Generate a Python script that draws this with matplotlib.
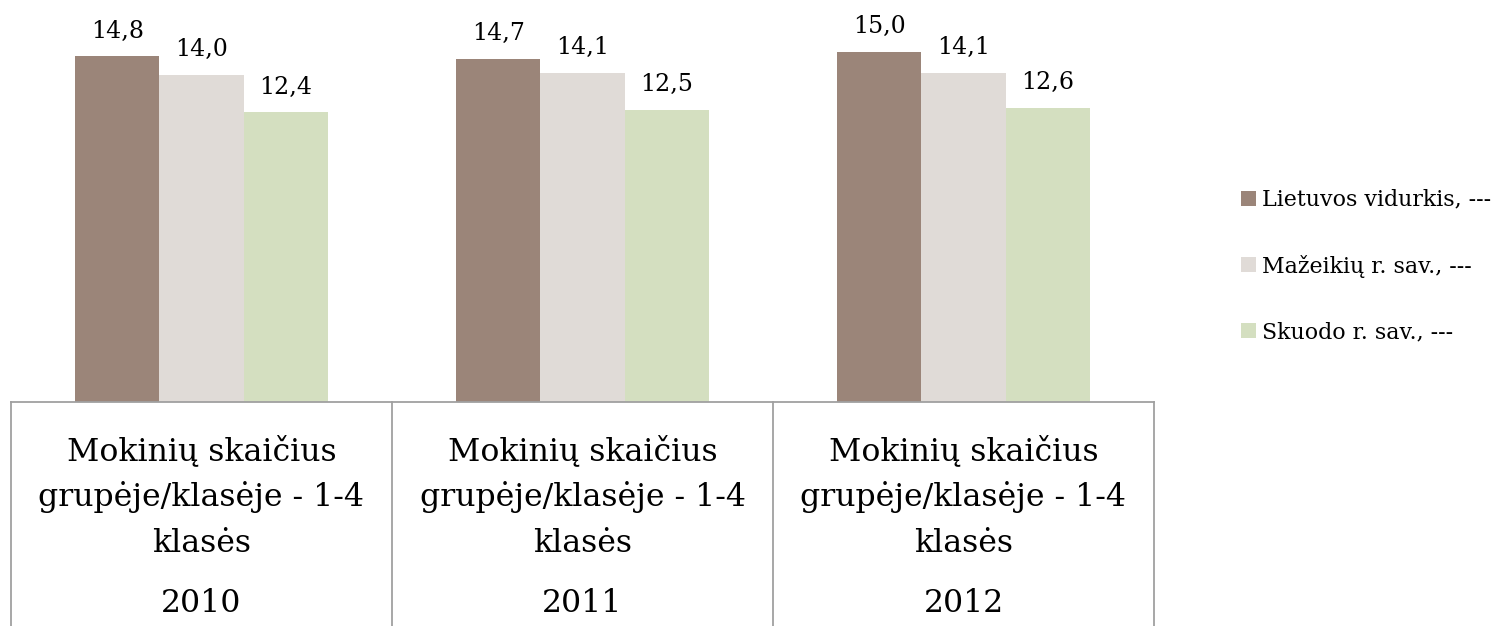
import matplotlib
matplotlib.use("Agg")
import matplotlib.pyplot as plt
import matplotlib.transforms as mtransforms
import numpy as np

years = ["2010", "2011", "2012"]
category_lines = ["Mokinių skaičius", "grupėje/klasėje - 1-4", "klasės"]
series_names = ["Lietuvos vidurkis, ---", "Mažeikių r. sav., ---", "Skuodo r. sav., ---"]
lietuvos = [14.8, 14.7, 15.0]
mazeikiu = [14.0, 14.1, 14.1]
skuodo = [12.4, 12.5, 12.6]
colors = ["#9B8579", "#E0DBD7", "#D4DFC0"]

W, H = 1497, 626
fig = plt.figure(figsize=(W / 100, H / 100), dpi=100)
plt.rcParams['font.family'] = ['DejaVu Serif']

base_px = 402
ax = fig.add_axes([11 / W, (H - base_px) / H, (1154 - 11) / W, base_px / H])
ax.set_xlim(-0.5, 2.5)
ax.set_ylim(0, base_px / 23.35)
ax.axis("off")

x = np.arange(len(years))
bw = 0.221
series = [lietuvos, mazeikiu, skuodo]
for i, (vals, col, name) in enumerate(zip(series, colors, series_names)):
    xs = x + (i - 1) * bw
    ax.bar(xs, vals, width=bw, color=col, label=name, zorder=2)
    for xi, v in zip(xs, vals):
        ax.annotate(f"{v:.1f}".replace(".", ","), (xi, v), xytext=(0, 10),
                    textcoords="offset points", ha="center", va="bottom",
                    fontsize=17, color="#000000")

# table below axis
trans = mtransforms.blended_transform_factory(ax.transData, ax.transAxes)
line_kw = dict(color="#A0A0A0", lw=1.3, clip_on=False, transform=trans, zorder=3)
bottom = -(H - base_px) / base_px - 0.05
ax.plot([-0.5, 2.5], [0, 0], **line_kw)
for xv in [-0.5, 0.5, 1.5, 2.5]:
    ax.plot([xv, xv], [0, bottom], **line_kw)

ftrans = mtransforms.blended_transform_factory(ax.transData, fig.transFigure)
line_y = [451, 497, 543]
for xi, yr in zip(x, years):
    for ly, txt in zip(line_y, category_lines):
        ax.text(xi, (H - ly) / H, txt, transform=ftrans,
                ha="center", va="center", fontsize=22.7)
    ax.text(xi, (H - 603) / H, yr, transform=ftrans,
            ha="center", va="center", fontsize=22.7)

handles, labels = ax.get_legend_handles_labels()
leg = fig.legend(handles, labels, loc="center left", bbox_to_anchor=(1241 / W, (H - 266) / H),
                 frameon=False, fontsize=15.9, handlelength=0.67, handleheight=0.67,
                 handletextpad=0.3, labelspacing=1.98, borderpad=0, borderaxespad=0)

fig.savefig("out.png", dpi=100)
